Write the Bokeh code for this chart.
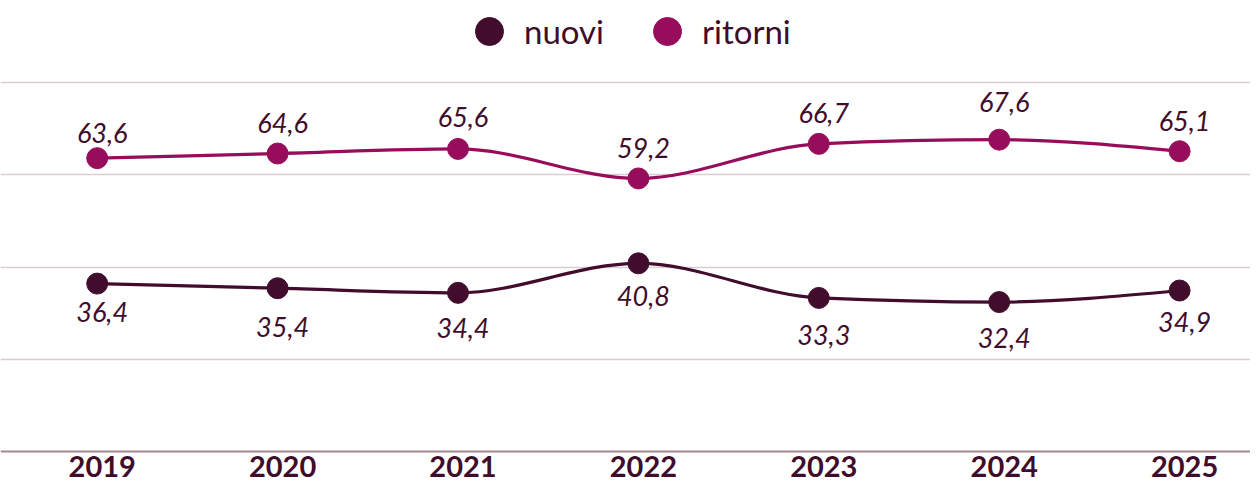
from bokeh.plotting import figure
from bokeh.models import Range1d, FixedTicker, Legend, LegendItem, ColumnDataSource, Span
from bokeh.core.properties import value
from bokeh.embed import file_html
from bokeh.resources import INLINE

# ---- data ----
years = [2019, 2020, 2021, 2022, 2023, 2024, 2025]
year_labels = [str(y) for y in years]
nuovi = [36.4, 35.4, 34.4, 40.8, 33.3, 32.4, 34.9]
ritorni = [63.6, 64.6, 65.6, 59.2, 66.7, 67.6, 65.1]
series_names = ["nuovi", "ritorni"]

# ---- layout / styles (screen px offsets of the value labels' centres) ----
off_nuovi = [28, 39, 35, 33, 37, 36, 31]
off_ritorni = [-25, -31, -32, -30, -31, -38, -30]
C_NUOVI = "#420D2C"
C_RITORNI = "#980D5B"
C_TEXT = "#3F0D2B"
FONT = "Lato"


def monotone_bezier(xs, ys):
    """Control points of a monotone cubic (like d3.curveMonotoneX) through the data."""
    n = len(xs)
    h = [xs[i + 1] - xs[i] for i in range(n - 1)]
    s = [(ys[i + 1] - ys[i]) / h[i] for i in range(n - 1)]
    t = [0.0] * n
    for i in range(1, n - 1):
        s0, s1 = s[i - 1], s[i]
        p = (s0 * h[i] + s1 * h[i - 1]) / (h[i - 1] + h[i])
        sign0 = (s0 > 0) - (s0 < 0)
        sign1 = (s1 > 0) - (s1 < 0)
        t[i] = (sign0 + sign1) * min(abs(s0), abs(s1), 0.5 * abs(p))
    t[0] = (3 * s[0] - t[1]) / 2
    t[-1] = (3 * s[-1] - t[-2]) / 2
    d = dict(x0=[], y0=[], x1=[], y1=[], cx0=[], cy0=[], cx1=[], cy1=[])
    for i in range(n - 1):
        dx = h[i] / 3
        d["x0"].append(xs[i]); d["y0"].append(ys[i])
        d["x1"].append(xs[i + 1]); d["y1"].append(ys[i + 1])
        d["cx0"].append(xs[i] + dx); d["cy0"].append(ys[i] + dx * t[i])
        d["cx1"].append(xs[i + 1] - dx); d["cy1"].append(ys[i + 1] - dx * t[i + 1])
    return d


def fmt(v):
    return f"{v:.1f}".replace(".", ",")


p = figure(width=1250, height=484, output_backend="svg", toolbar_location=None,
           x_range=Range1d(2018.464, 2025.393), y_range=Range1d(-7.154, 97.778),
           min_border=0)
p.outline_line_color = None
p.background_fill_color = "white"
p.border_fill_color = "white"

p.xaxis.visible = False
p.yaxis.visible = False
p.xgrid.visible = False
p.ygrid.ticker = FixedTicker(ticks=[20, 40, 60, 80])
p.ygrid.grid_line_color = "#D8CED2"
p.ygrid.grid_line_width = 1.5

# baseline (x axis line) and year labels
p.add_layout(Span(location=0, dimension="width", line_color="#A18893", line_width=2))
p.text(years, [0] * len(years), text=year_labels, text_align="center",
       text_baseline="middle", x_offset=5, y_offset=15, text_color=C_TEXT,
       text_font=value(FONT), text_font_style="bold", text_font_size="29px")

for ys, col, offs in [(nuovi, C_NUOVI, off_nuovi), (ritorni, C_RITORNI, off_ritorni)]:
    src = ColumnDataSource(monotone_bezier(years, ys))
    p.bezier(x0="x0", y0="y0", x1="x1", y1="y1", cx0="cx0", cy0="cy0",
             cx1="cx1", cy1="cy1", source=src, line_color=col, line_width=3.2)
    p.scatter(years, ys, size=21, fill_color=col, line_color=col)
    p.text(years, ys, text=[fmt(v) for v in ys], text_align="center",
           text_baseline="middle", x_offset=5, y_offset=offs,
           text_color=C_TEXT, text_font=value(FONT), text_font_style="italic",
           text_font_size="27px")

# legend swatches (round dots); a NaN point so the legend draws them
nan = float("nan")
dummies = [p.scatter(x=[nan], y=[nan], size=28, fill_color=c, line_color=c)
           for c in (C_NUOVI, C_RITORNI)]
legend = Legend(items=[LegendItem(label=n, renderers=[r]) for n, r in zip(series_names, dummies)],
                orientation="horizontal", location=(454, 418),
                glyph_width=70, glyph_height=70, label_standoff=-17, spacing=28,
                label_text_font=FONT, label_text_font_size="33px", label_text_color=C_TEXT,
                border_line_color=None, background_fill_alpha=0, padding=0, margin=0)
p.add_layout(legend)

open("out.html", "w").write(file_html(p, INLINE))
